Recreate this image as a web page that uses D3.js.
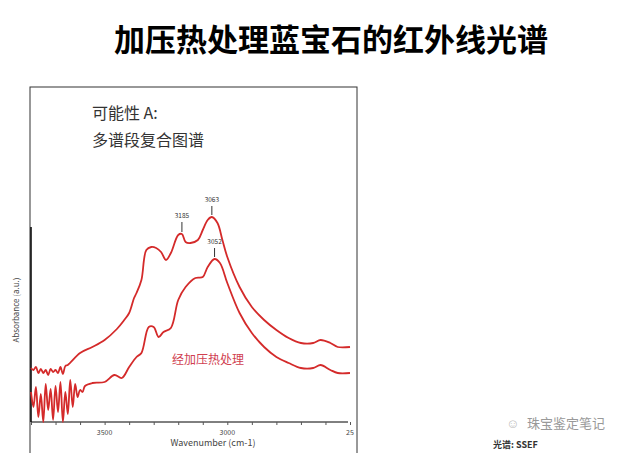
<!DOCTYPE html><html><head><meta charset="utf-8"><script src="https://cdn.jsdelivr.net/npm/d3@7"></script>
<style>body{margin:0;background:#fff}svg{font-family:"Noto Sans CJK SC","Noto Sans",sans-serif}</style></head><body>
<svg id="c" width="641" height="453"></svg>
<script>
const upperWn=[3800,3790,3780,3770,3760,3750,3740,3730,3720,3710,3700,3690,3680,3670,3660,3650,3600,3550,3500,3450,3420,3400,3380,3370,3350,3330,3310,3290,3270,3250,3230,3200,3185,3170,3150,3120,3100,3080,3063,3040,3020,3000,2950,2900,2850,2800,2750,2700,2650,2620,2580,2550,2500];
const upperAbs=[0.54,0.52,0.55,0.49,0.53,0.49,0.52,0.47,0.53,0.50,0.52,0.49,0.55,0.48,0.56,0.57,0.69,0.75,0.82,0.93,1.02,1.09,1.24,1.29,1.42,1.72,1.75,1.74,1.70,1.62,1.69,1.87,1.88,1.80,1.79,1.82,1.92,2.02,2.05,1.99,1.82,1.65,1.35,1.15,1.02,0.92,0.84,0.79,0.79,0.82,0.79,0.75,0.75];
const lowerWn=[3800,3790,3780,3770,3760,3750,3740,3730,3720,3710,3700,3690,3680,3670,3660,3650,3640,3630,3620,3610,3600,3590,3580,3550,3500,3460,3430,3400,3370,3350,3320,3300,3280,3260,3230,3200,3170,3130,3100,3080,3052,3030,3000,2950,2900,2850,2800,2750,2700,2650,2620,2580,2550,2500];
const lowerAbs=[0.30,0.15,0.35,0.05,0.28,0.00,0.38,0.12,0.33,0.02,0.36,0.10,0.40,0.00,0.30,0.08,0.42,0.15,0.38,0.25,0.32,0.30,0.36,0.39,0.40,0.47,0.44,0.55,0.65,0.69,0.95,0.95,0.85,0.90,0.94,1.22,1.35,1.44,1.45,1.55,1.63,1.59,1.39,1.09,0.89,0.75,0.65,0.59,0.54,0.54,0.57,0.52,0.49,0.49];
const xTicks=[3500,3000,2500];
const xTickLabels=["3500","3000","25"];
const peaks=[{wn:3185,a:1.88,lab:"3185",len:10},{wn:3063,a:2.05,lab:"3063",len:9},{wn:3052,a:1.63,lab:"3052",len:9}];
const svg=d3.select("#c");
const x=d3.scaleLinear().domain([3800,2500]).range([31,350]);
const y=d3.scaleLinear().domain([0,2.05]).range([422,217]);
svg.append("text").attr("x",331).attr("y",51).attr("text-anchor","middle").attr("font-size",31).attr("font-weight","bold").text("加压热处理蓝宝石的红外线光谱");
svg.append("rect").attr("x",30).attr("y",87).attr("width",327).attr("height",380).attr("fill","none").attr("stroke","#333").attr("stroke-width",1);
svg.append("text").attr("x",92).attr("y",119).attr("font-size",16).attr("fill","#333").text("可能性 A:");
svg.append("text").attr("x",92).attr("y",146).attr("font-size",16).attr("fill","#333").text("多谱段复合图谱");
const ax=svg.append("g").attr("transform","translate(0,422)").call(d3.axisBottom(x).tickValues(d3.range(3800,2499,-100)).tickSize(3).tickFormat(""));
ax.select(".domain").attr("d","M31,0H348").attr("stroke","#000");
ax.selectAll(".tick line").attr("stroke","#555");
svg.selectAll(".xl").data(xTicks).join("text").attr("x",d=>x(d)).attr("y",435).attr("text-anchor","middle").attr("font-size",7).attr("fill","#444").text((d,i)=>xTickLabels[i]);
svg.append("line").attr("x1",31).attr("x2",31).attr("y1",227).attr("y2",422).attr("stroke","#000").attr("stroke-width",1.5);
svg.append("text").attr("transform","translate(19,310) rotate(-90)").attr("text-anchor","middle").attr("font-size",8).attr("fill","#444").text("Absorbance (a.u.)");
svg.append("text").attr("x",213).attr("y",446).attr("text-anchor","middle").attr("font-size",9).attr("fill","#444").text("Wavenumber (cm-1)");
const line=d3.line().x(d=>x(d[0])).y(d=>y(d[1])).curve(d3.curveCatmullRom);
svg.append("path").attr("d",line(d3.zip(upperWn,upperAbs))).attr("fill","none").attr("stroke","#d42a2a").attr("stroke-width",1.8);
svg.append("path").attr("d",line(d3.zip(lowerWn,lowerAbs))).attr("fill","none").attr("stroke","#d42a2a").attr("stroke-width",1.8);
peaks.forEach(p=>{const px=x(p.wn),py=y(p.a)-2;
svg.append("line").attr("x1",px).attr("x2",px).attr("y1",py).attr("y2",py-p.len).attr("stroke","#333");
svg.append("text").attr("x",px).attr("y",py-p.len-4).attr("text-anchor","middle").attr("font-size",6.5).attr("fill","#333").text(p.lab);});
svg.append("text").attr("x",172).attr("y",364).attr("font-size",12).attr("fill","#d04050").text("经加压热处理");
svg.append("text").attr("x",527).attr("y",428).attr("font-size",13).attr("fill","#999").text("珠宝鉴定笔记");
svg.append("text").attr("x",506).attr("y",428).attr("font-size",13).attr("fill","#bbb").text("☺");
svg.append("text").attr("x",493).attr("y",448).attr("font-size",9).attr("font-weight","bold").attr("fill","#333").text("光谱: SSEF");
</script></body></html>
